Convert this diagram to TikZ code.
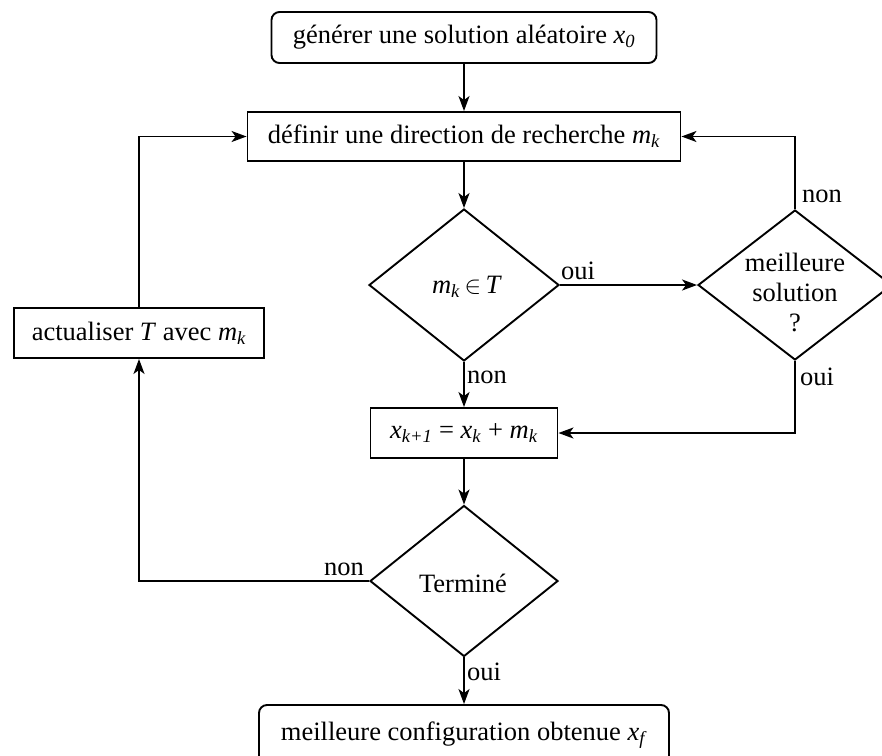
\documentclass[tikz,border=0pt]{standalone}
\usepackage{fontspec}
\setmainfont{Liberation Serif}
\usetikzlibrary{arrows.meta,shapes.geometric}
\newcommand{\ssub}[1]{\textsubscript{\textit{#1}}}
\begin{document}
\begin{tikzpicture}[x=1pt,y=-1pt,
  txt/.style={font=\fontsize{26.5}{30}\selectfont},
  box/.style={txt, draw, line width=1.9pt, inner sep=0pt},
  rbox/.style={box, rounded corners=8pt},
  dia/.style={draw, diamond, line width=1.9pt, inner sep=0pt, minimum width=190pt, minimum height=152pt},
  lbl/.style={txt, inner sep=0pt},
  arr/.style={-{Stealth[length=15pt,width=11pt,inset=4pt]}, line width=1.9pt},
  ln/.style={line width=1.9pt}]
\useasboundingbox (0,0) rectangle (882,755);

\node[rbox, minimum width=385pt, minimum height=51pt] (top) at (464,37.5)
  {générer une solution aléatoire \textit{x}\ssub{0}};
\node[box, minimum width=433pt, minimum height=49pt] (def) at (464,136.5)
  {définir une direction de recherche \textit{m}\ssub{k}};
\node[dia] (d1) at (464,285) {};
\node[txt] (d1t) at (467,287) {\textit{m}\ssub{k}\,$\in$\,\textit{T}};
\node[dia, minimum width=194pt, minimum height=150pt] (d2) at (795,285) {};
\node[txt, align=center, font=\fontsize{26.5}{30}\selectfont] (d2t) at (795,292) {meilleure\\solution\\?};
\node[box, minimum width=250pt, minimum height=50pt] (act) at (139,333)
  {actualiser \textit{T} avec \textit{m}\ssub{k}};
\node[box, minimum width=187pt, minimum height=50pt] (xb) at (464,433)
  {\textit{x}\ssub{k+1} = \textit{x}\ssub{k} + \textit{m}\ssub{k}};
\node[dia, minimum width=188pt, minimum height=151pt] (term) at (464,581) {};
\node[txt] (termt) at (463,583) {Terminé};
\node[rbox, minimum width=410pt, minimum height=60pt] (bot) at (464,735)
  {meilleure configuration obtenue \textit{x}\ssub{f}};

\draw[arr] (top.south) -- (def.north);
\draw[arr] (def.south) -- (d1.north);
\draw[arr] (d1.east) -- (d2.west);
\draw[arr] (d2.north) |- (def.east);
\draw[arr] (d2.south) |- (xb.east);
\draw[arr] (d1.south) -- (xb.north);
\draw[arr] (xb.south) -- (term.north);
\draw[arr] (term.west) -| (act.south);
\draw[arr] (act.north) |- (def.west);
\draw[arr] (term.south) -- (bot.north);

\node[lbl, anchor=base west] (l1) at (561,279) {oui};
\node[lbl, anchor=base west] (l2) at (467,383) {non};
\node[lbl, anchor=base west] (l3) at (802,202) {non};
\node[lbl, anchor=base west] (l4) at (800,385) {oui};
\node[lbl, anchor=base east] (l5) at (364,575) {non};
\node[lbl, anchor=base west] (l6) at (467,680) {oui};
\end{tikzpicture}
\end{document}
